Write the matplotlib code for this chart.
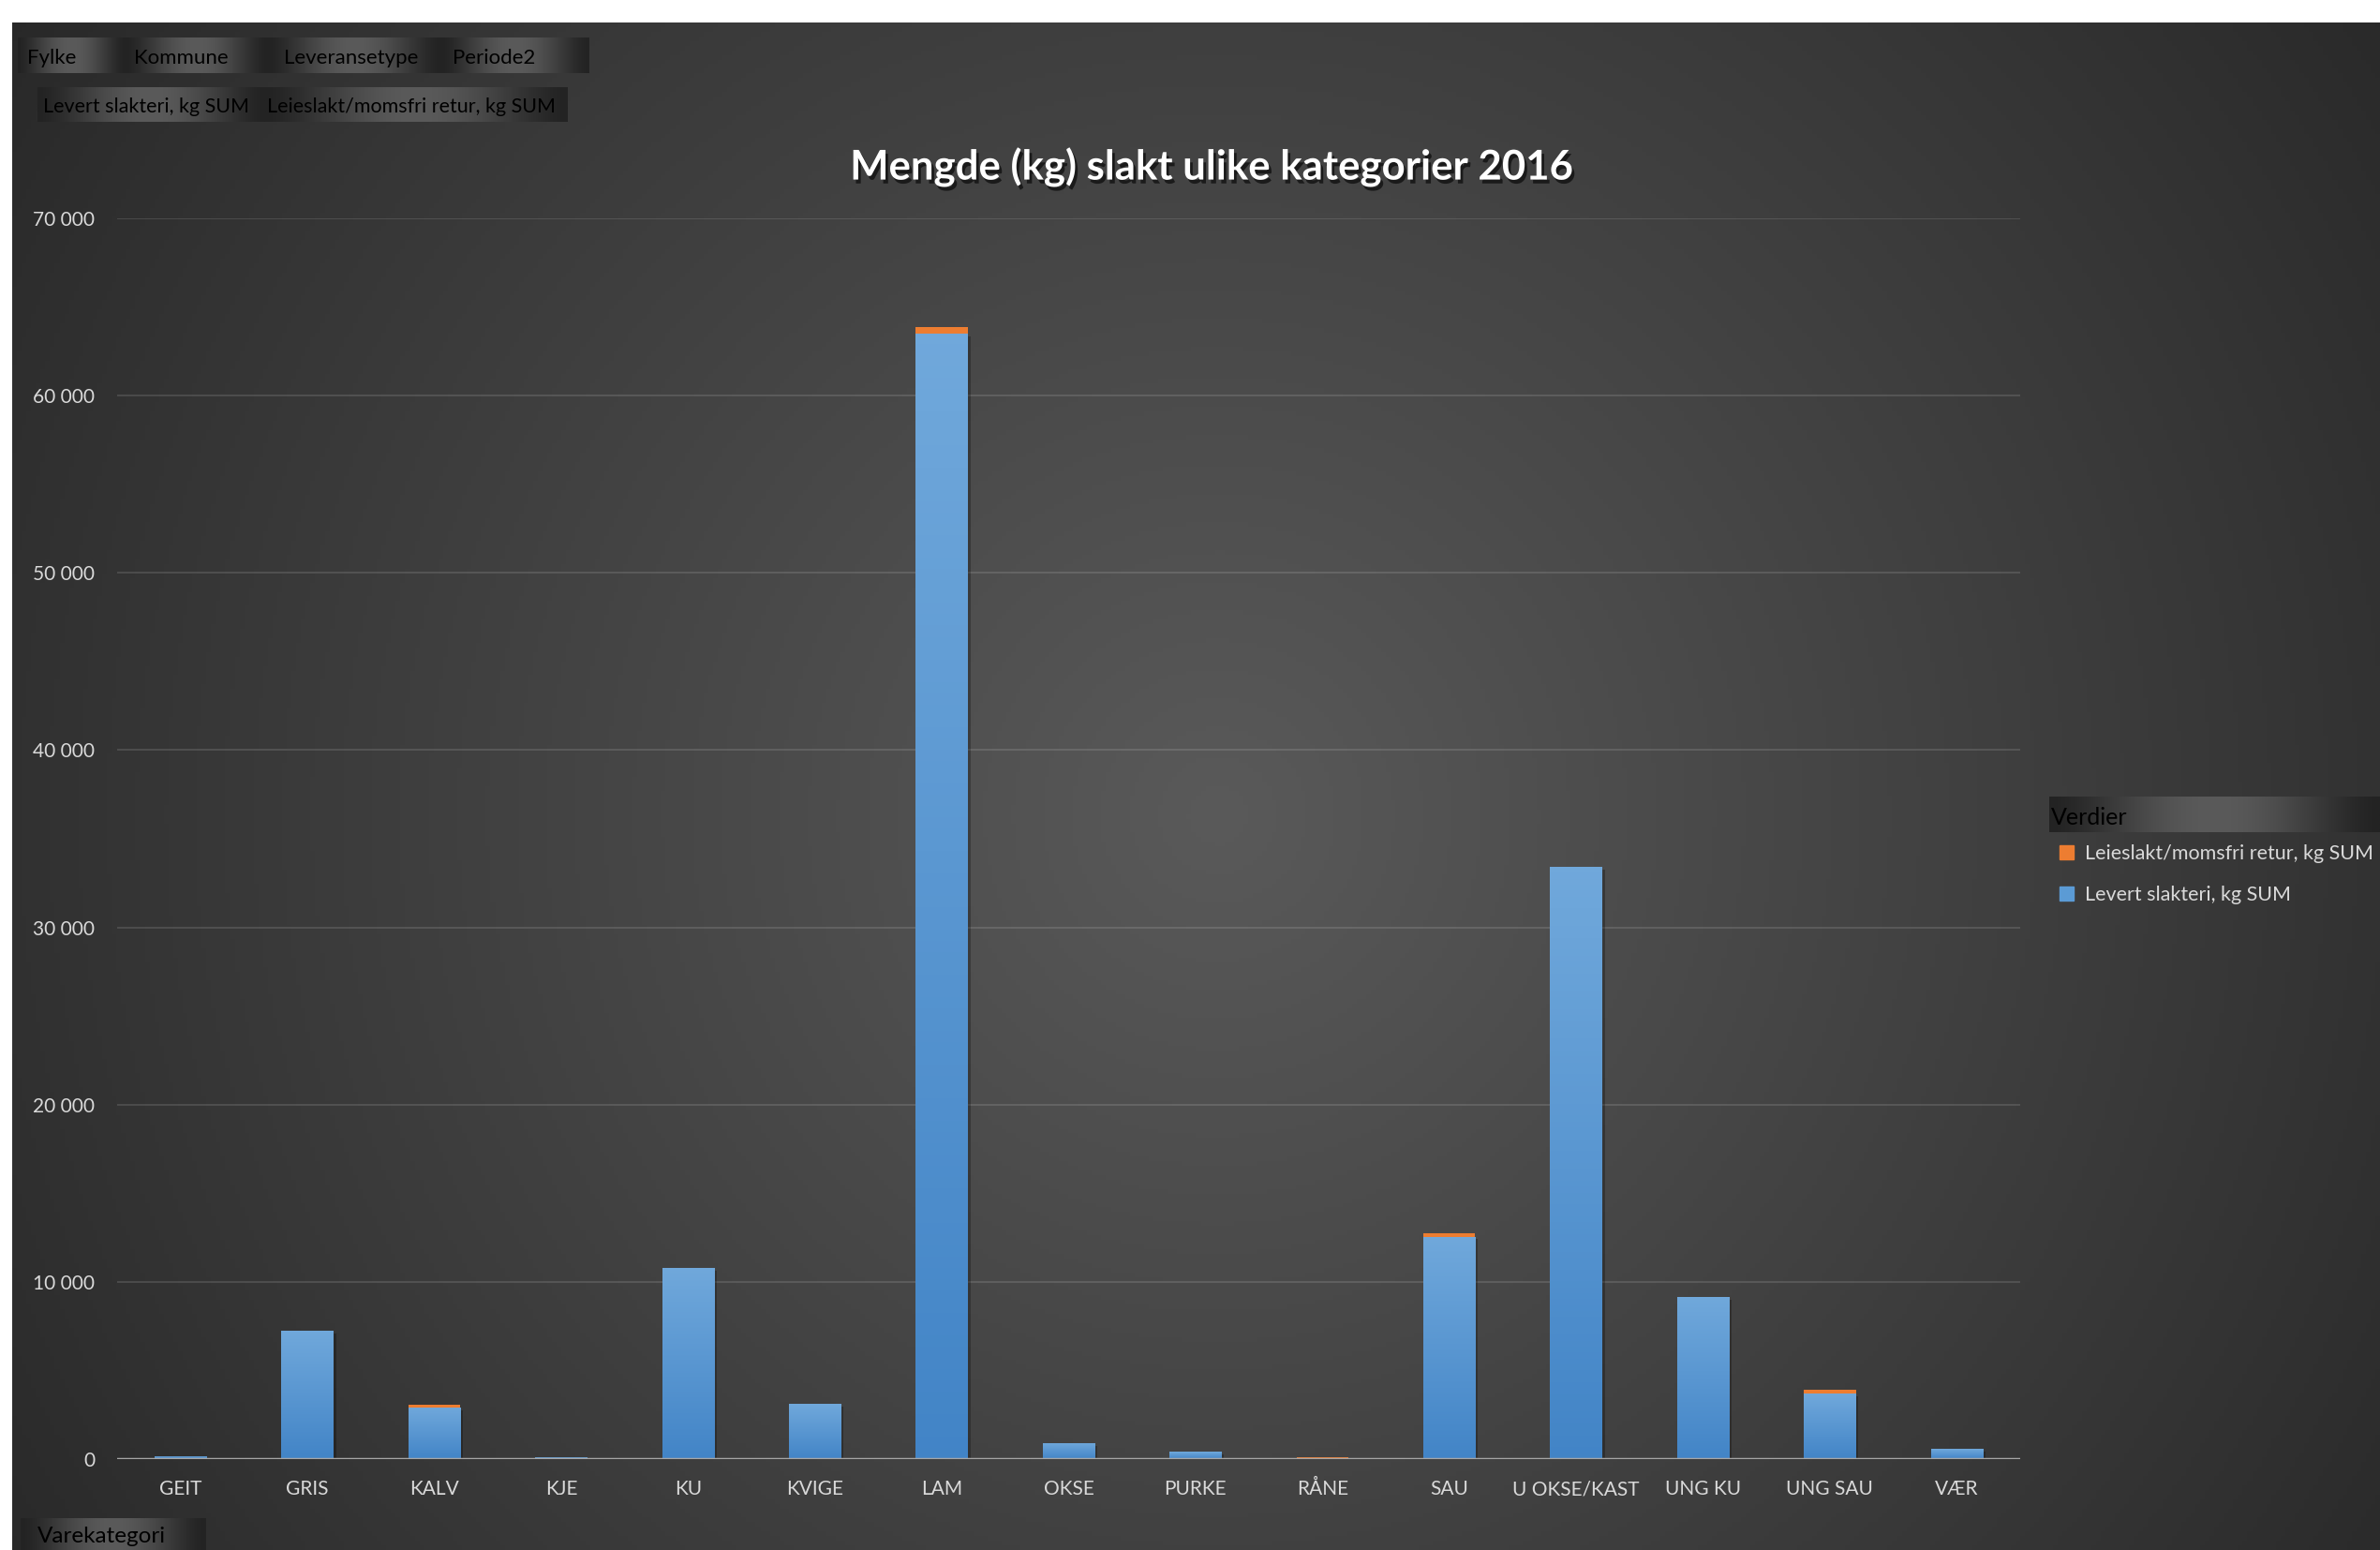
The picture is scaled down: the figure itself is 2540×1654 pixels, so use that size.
import numpy as np
import matplotlib
matplotlib.use("Agg")
import matplotlib.pyplot as plt
import matplotlib.patches as mpatches
import matplotlib.patheffects as pe

# data
categories = ["GEIT", "GRIS", "KALV", "KJE", "KU", "KVIGE", "LAM", "OKSE",
              "PURKE", "RÅNE", "SAU", "U OKSE/KAST", "UNG KU", "UNG SAU", "VÆR"]
levert = [160, 7250, 2920, 80, 10800, 3100, 63500, 900,
          420, 0, 12550, 33400, 9150, 3700, 580]
leieslakt = [0, 0, 150, 0, 0, 0, 360, 0,
             0, 100, 170, 0, 0, 200, 0]
yticks = [0, 10000, 20000, 30000, 40000, 50000, 60000, 70000]

title = "Mengde (kg) slakt ulike kategorier 2016"
labelLevert = "Levert slakteri, kg SUM"
labelLeie = "Leieslakt/momsfri retur, kg SUM"

W, H = 2540, 1654
blue = "#5b9bd5"
orange = "#ed7d31"
textGray = "#d9d9d9"

plt.rcParams["font.family"] = ["Lato", "DejaVu Sans"]

fig = plt.figure(figsize=(W / 100, H / 100), dpi=100, facecolor="white")

# dark radial background (leaves a thin white strip top and left)
bg = fig.add_axes([13 / W, 0, 1 - 13 / W, 1 - 24 / H], zorder=-10)
xx, yy = np.meshgrid(np.linspace(13, W, 500), np.linspace(24, H, 330))
d = np.hypot(xx - 1300, yy - 870)
v = np.clip(90 - 0.032 * d, 40, 255) / 255.0
bg.imshow(np.dstack([v, v, v]), extent=(0, 1, 0, 1), aspect="auto", origin="upper")
bg.axis("off")

# overlay axes in pixel coords for the pivot field buttons
ov = fig.add_axes([0, 0, 1, 1], zorder=5)
ov.axis("off")
ov.patch.set_alpha(0)

def button(x0, x1, y0, y1, label, tx, size=16):
    t = np.linspace(0, 1, 200)
    g = (35 + 55 * np.sin(np.pi * t) ** 1.5) / 255.0
    img = np.dstack([g, g, g])
    ov.imshow(img, extent=(x0, x1, y1, y0), aspect="auto")
    ov.text(tx, (y0 + y1) / 2 + 3, label, color="black", fontsize=size,
            ha="left", va="center")

button(19, 134, 40, 78, "Fylke", 29)
button(134, 286, 40, 78, "Kommune", 143)
button(286, 471, 40, 78, "Leveransetype", 303)
button(471, 629, 40, 78, "Periode2", 483)
button(40, 283, 93, 130, labelLevert, 46, 15.5)
button(283, 606, 93, 130, labelLeie, 285, 15.5)
button(22, 220, 1620, 1654, "Varekategori", 40, 17.5)
# legend header
button(2187, 2540, 850, 888, "Verdier", 2189, 18)
ov.set_xlim(0, W)
ov.set_ylim(H, 0)

# main chart
ax = fig.add_axes([125 / W, 1 - 1557 / H, (2156 - 125) / W, (1557 - 233) / H])
ax.patch.set_alpha(0)
x = np.arange(len(categories))
shadow = [pe.SimplePatchShadow(offset=(2, -2), shadow_rgbFace="black", alpha=0.25), pe.Normal()]
bBlue = ax.bar(x, levert, width=0.41, color=blue, zorder=3, path_effects=shadow)
bOrange = ax.bar(x, leieslakt, width=0.41, bottom=levert, color=orange, zorder=3)

# vertical gradient inside each blue bar
grad = np.linspace(0, 1, 100)[:, None]
c0 = np.array([0.44, 0.66, 0.86])
c1 = np.array([0.26, 0.52, 0.78])
gimg = c0[None, None, :] * (1 - grad[:, :, None]) + c1[None, None, :] * grad[:, :, None]
for p in bBlue.patches:
    if p.get_height() <= 0:
        continue
    x0, y0 = p.get_x(), p.get_y()
    im = ax.imshow(gimg, extent=(x0, x0 + p.get_width(), y0, y0 + p.get_height()),
                   aspect="auto", origin="upper", zorder=3.5)
    im.set_clip_path(p)

ax.set_xlim(-0.5, len(categories) - 0.5)
ax.set_ylim(0, 70000)
ax.set_yticks(yticks)
ax.set_yticklabels([f"{t:,}".replace(",", " ") for t in yticks])
ax.set_xticks(x)
ax.set_xticklabels(categories)
ax.tick_params(axis="both", length=0, colors=textGray, labelsize=15)
ax.tick_params(axis="y", pad=17)
ax.tick_params(axis="x", pad=16)
for s in ax.spines.values():
    s.set_visible(False)
ax.yaxis.grid(True, color="white", alpha=0.12, lw=1.5, zorder=0)
ax.set_axisbelow(True)
ax.axhline(0, color="#a6a6a6", lw=2.5, zorder=4)

fig.text(1293 / W, 1 - 178 / H, title, color="white", fontsize=31.5,
         fontweight="bold", ha="center", va="center",
         path_effects=[pe.withSimplePatchShadow(offset=(2, -3), shadow_rgbFace="black", alpha=0.6)])

handles = [mpatches.Patch(color=orange), mpatches.Patch(color=blue)]
fig.legend(handles, [labelLeie, labelLevert], loc="upper left",
           bbox_to_anchor=(2198 / W, 1 - 901 / H), frameon=False,
           fontsize=15.5, labelcolor=textGray, handlelength=0.7, handleheight=0.7,
           handletextpad=0.55, labelspacing=1.1, borderpad=0, borderaxespad=0)

fig.savefig("out.png", dpi=100, facecolor="white")
